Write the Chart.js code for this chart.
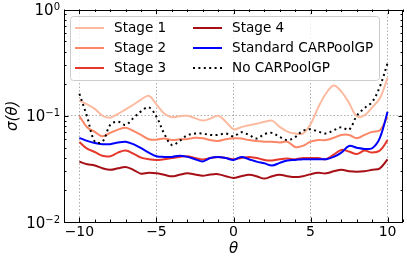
<!DOCTYPE html>
<html>
<head>
<meta charset="utf-8">
<script src="https://cdn.jsdelivr.net/npm/chart.js@4/dist/chart.umd.min.js"></script>
<style>
  body { margin: 0; background: #fff; }
  canvas { display: block; }
</style>
</head>
<body>
<canvas id="sigma-plot" width="407" height="264"></canvas>
<script>
// theta grid, step 0.5
const thetas = [-10, -9.5, -9, -8.5, -8, -7.5, -7, -6.5, -6, -5.5, -5, -4.5, -4, -3.5, -3, -2.5, -2, -1.5, -1, -0.5,
  0, 0.5, 1, 1.5, 2, 2.5, 3, 3.5, 4, 4.5, 5, 5.5, 6, 6.5, 7, 7.5, 8, 8.5, 9, 9.5, 10];

const stage1 = [0.139, 0.128, 0.116, 0.100, 0.096, 0.104, 0.115, 0.127, 0.142, 0.154, 0.128, 0.105, 0.097, 0.099, 0.100, 0.095, 0.090, 0.094, 0.100, 0.088,
  0.0746, 0.078, 0.0814, 0.084, 0.0877, 0.090, 0.0785, 0.071, 0.068, 0.068, 0.083, 0.120, 0.162, 0.193, 0.169, 0.132, 0.099, 0.101, 0.120, 0.146, 0.227];
const stage2 = [0.0995, 0.078, 0.0705, 0.064, 0.069, 0.074, 0.077, 0.072, 0.066, 0.060, 0.0596, 0.061, 0.059, 0.060, 0.0605, 0.062, 0.0614, 0.059, 0.058, 0.060,
  0.0614, 0.061, 0.059, 0.058, 0.057, 0.057, 0.056, 0.057, 0.0509, 0.052, 0.057, 0.059, 0.059, 0.062, 0.066, 0.066, 0.0614, 0.066, 0.0705, 0.073, 0.098];
const stage3 = [0.0565, 0.049, 0.0456, 0.042, 0.0416, 0.045, 0.047, 0.044, 0.0404, 0.039, 0.0384, 0.039, 0.040, 0.041, 0.0416, 0.040, 0.0388, 0.040, 0.041, 0.040,
  0.039, 0.040, 0.041, 0.040, 0.0384, 0.038, 0.039, 0.0395, 0.039, 0.040, 0.040, 0.040, 0.039, 0.043, 0.0477, 0.046, 0.0436, 0.047, 0.045, 0.047, 0.059];
const stage4 = [0.0369, 0.035, 0.034, 0.032, 0.031, 0.032, 0.033, 0.031, 0.0285, 0.029, 0.0287, 0.0278, 0.0269, 0.0278, 0.0287, 0.028, 0.0272, 0.028, 0.0282, 0.027,
  0.026, 0.027, 0.0278, 0.027, 0.0256, 0.027, 0.0278, 0.027, 0.0265, 0.027, 0.0282, 0.029, 0.0287, 0.030, 0.031, 0.030, 0.0297, 0.030, 0.031, 0.032, 0.0388];
const standard = [0.062, 0.058, 0.0553, 0.054, 0.054, 0.056, 0.057, 0.054, 0.0495, 0.045, 0.0416, 0.041, 0.041, 0.042, 0.041, 0.039, 0.0372, 0.040, 0.041, 0.040,
  0.0384, 0.041, 0.039, 0.037, 0.0357, 0.034, 0.036, 0.038, 0.0384, 0.039, 0.039, 0.039, 0.039, 0.041, 0.045, 0.052, 0.050, 0.0487, 0.0495, 0.062, 0.109];
const noCarpool = [0.161, 0.098, 0.057, 0.057, 0.082, 0.088, 0.082, 0.095, 0.110, 0.120, 0.098, 0.068, 0.053, 0.058, 0.0655, 0.068, 0.068, 0.066, 0.066, 0.068,
  0.064, 0.070, 0.066, 0.061, 0.067, 0.069, 0.063, 0.059, 0.063, 0.072, 0.0746, 0.071, 0.068, 0.073, 0.078, 0.074, 0.100, 0.118, 0.135, 0.188, 0.314];

const seriesNames = ['Stage 1', 'Stage 2', 'Stage 3', 'Stage 4', 'Standard CARPoolGP', 'No CARPoolGP'];
const xTicks = [-10, -5, 0, 5, 10];
const yTicks = [0.01, 0.1, 1];

const colors = ['#fcbba1', '#fc8767', '#e5372c', '#a50f15', '#0000ff', '#000000'];
const allSeries = [stage1, stage2, stage3, stage4, standard, noCarpool];

const FONT = '"DejaVu Sans", sans-serif';

const datasets = allSeries.map((vals, i) => ({
  label: seriesNames[i],
  data: thetas.map((t, k) => ({x: t, y: vals[k]})),
  borderColor: colors[i],
  borderWidth: 2,
  borderDash: i === 5 ? [2, 3.4] : [],
  borderCapStyle: 'butt',
  pointRadius: 0,
  tension: 0.35,
  fill: false,
  order: 5 - i
}));

// frame, inward ticks, log labels, axis titles and legend (matplotlib look)
const decorations = {
  id: 'decorations',
  afterDraw(chart) {
    const ctx = chart.ctx;
    const a = chart.chartArea;
    const xs = chart.scales.x, ys = chart.scales.y;
    ctx.save();

    // frame
    ctx.strokeStyle = '#000';
    ctx.lineWidth = 1;
    ctx.setLineDash([]);
    ctx.strokeRect(Math.round(a.left) + 0.5, Math.round(a.top) + 0.5,
      Math.round(a.right - a.left) - 1, Math.round(a.bottom - a.top) - 1);

    // x ticks
    ctx.beginPath();
    for (let v = -11; v <= 11; v++) {
      const px = Math.round(xs.getPixelForValue(v)) + 0.5;
      const len = v % 5 === 0 ? 4.5 : 2.5;
      ctx.moveTo(px, a.bottom); ctx.lineTo(px, a.bottom - len);
      ctx.moveTo(px, a.top); ctx.lineTo(px, a.top + len);
    }
    // y ticks
    for (let e = -2; e <= 0; e++) {
      for (let m = 1; m <= 9; m++) {
        const v = m * Math.pow(10, e);
        if (v > 1.0001) break;
        const py = Math.round(ys.getPixelForValue(v)) + 0.5;
        const len = m === 1 ? 4.5 : 2.5;
        ctx.moveTo(a.left, py); ctx.lineTo(a.left + len, py);
        ctx.moveTo(a.right, py); ctx.lineTo(a.right - len, py);
      }
    }
    ctx.stroke();

    // y tick labels 10^n
    ctx.fillStyle = '#000';
    ctx.textBaseline = 'alphabetic';
    yTicks.forEach(v => {
      const py = ys.getPixelForValue(v);
      const exp = String(Math.round(Math.log10(v))).replace('-', '\u2212');
      ctx.font = '10px ' + FONT;
      const ew = ctx.measureText(exp).width;
      ctx.font = '15px ' + FONT;
      const bw = ctx.measureText('10').width;
      const right = a.left - 4;
      ctx.textAlign = 'left';
      ctx.fillText('10', right - ew - bw, py + 5.5);
      ctx.font = '10px ' + FONT;
      ctx.fillText(exp, right - ew, py + 0.5);
    });

    // axis titles
    ctx.font = 'italic 15px ' + FONT;
    ctx.textAlign = 'center';
    ctx.textBaseline = 'middle';
    ctx.fillText('\u03b8', (a.left + a.right) / 2, 249);
    ctx.save();
    ctx.translate(13, (a.top + a.bottom) / 2);
    ctx.rotate(-Math.PI / 2);
    ctx.fillText('\u03c3(\u03b8)', 0, 0);
    ctx.restore();

    // legend
    const bx = 70.5, by = 16.5, bw2 = 309, bh = 64, r = 3;
    ctx.beginPath();
    ctx.moveTo(bx + r, by);
    ctx.arcTo(bx + bw2, by, bx + bw2, by + bh, r);
    ctx.arcTo(bx + bw2, by + bh, bx, by + bh, r);
    ctx.arcTo(bx, by + bh, bx, by, r);
    ctx.arcTo(bx, by, bx + bw2, by, r);
    ctx.closePath();
    ctx.fillStyle = 'rgba(255,255,255,0.8)';
    ctx.fill();
    ctx.strokeStyle = '#cccccc';
    ctx.lineWidth = 1;
    ctx.stroke();

    const cols = [{hx: 75, tx: 114}, {hx: 193, tx: 232}];
    const rows = [28, 48, 68];
    chart.data.datasets.forEach((ds, i) => {
      const c = cols[Math.floor(i / 3)];
      const y = rows[i % 3];
      ctx.beginPath();
      ctx.strokeStyle = ds.borderColor;
      ctx.lineWidth = 2;
      ctx.lineCap = 'butt';
      ctx.setLineDash(ds.borderDash);
      ctx.moveTo(c.hx, y); ctx.lineTo(c.hx + 29, y);
      ctx.stroke();
      ctx.setLineDash([]);
      ctx.fillStyle = '#000';
      ctx.font = '13.6px ' + FONT;
      ctx.textAlign = 'left';
      ctx.textBaseline = 'middle';
      ctx.fillText(ds.label, c.tx, y);
    });
    ctx.restore();
  }
};

new Chart(document.getElementById('sigma-plot'), {
  type: 'line',
  data: {datasets: datasets},
  options: {
    responsive: false,
    animation: false,
    devicePixelRatio: 1,
    layout: {padding: {left: 0, right: 4, top: 9.5, bottom: 0}},
    plugins: {legend: {display: false}, tooltip: {enabled: false}},
    scales: {
      x: {
        type: 'linear',
        min: -11,
        max: 11,
        afterFit: s => { s.height = 42; },
        afterBuildTicks: s => { s.ticks = xTicks.map(v => ({value: v})); },
        border: {display: false, dash: [1.5, 2]},
        grid: {
          drawTicks: false,
          color: 'rgba(0,0,0,0.4)',
          lineWidth: 0.8
        },
        ticks: {
          color: '#000',
          font: {family: FONT, size: 14},
          padding: 2,
          maxRotation: 0,
          callback: v => String(v).replace('-', '\u2212')
        }
      },
      y: {
        type: 'logarithmic',
        min: 0.01,
        max: 1,
        afterFit: s => { s.width = 64; },
        afterBuildTicks: s => { s.ticks = yTicks.map(v => ({value: v})); },
        border: {display: false, dash: [1.5, 2]},
        grid: {
          drawTicks: false,
          color: ctx => (ctx.tick && ctx.tick.value === 0.1) ? 'rgba(0,0,0,0.4)' : 'rgba(0,0,0,0)',
          lineWidth: 0.8
        },
        ticks: {display: false}
      }
    }
  },
  plugins: [decorations]
});
</script>
</body>
</html>
